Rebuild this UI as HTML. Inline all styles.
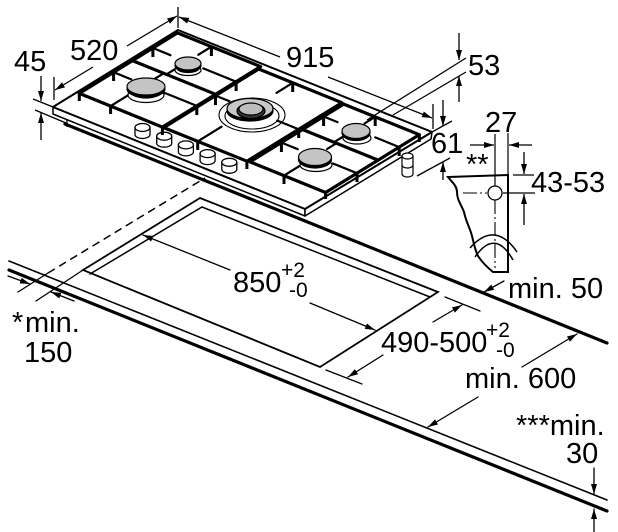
<!DOCTYPE html>
<html><head><meta charset="utf-8"><style>
html,body{margin:0;padding:0;background:#fff;}
svg{display:block;}
text{font-family:"Liberation Sans",Arial,sans-serif;fill:#000;}
.t{font-size:29px;}
.s{font-size:21px;}
</style></head><body>
<svg width="618" height="532" viewBox="0 0 618 532" xmlns="http://www.w3.org/2000/svg">
<defs>
<marker id="ar" viewBox="0 0 10 6" refX="10" refY="3" markerWidth="10" markerHeight="6" orient="auto" markerUnits="userSpaceOnUse"><path d="M0,0L10,3L0,6z" fill="#000"/></marker>
</defs>
<rect width="618" height="532" fill="#fff"/>

<!-- countertop -->
<g stroke="#000" fill="none" stroke-linecap="round">
<line x1="9" y1="261" x2="607" y2="500" stroke-width="1.6"/>
<line x1="9" y1="270" x2="607" y2="511" stroke-width="3.2"/>
<line x1="65" y1="124" x2="607" y2="343" stroke-width="3.2"/>
<!-- cutout -->
<path d="M83,270 L200,198 L438,292 L320,367 Z" stroke-width="1.8" fill="#fff"/>
<path d="M90,274 L202,207 L430,297" stroke-width="1.5"/>
<!-- dashed + ext lines (min 150) -->
<line x1="48" y1="273" x2="205" y2="178" stroke-width="1.5" stroke-dasharray="8,5" stroke-linecap="butt"/>
<line x1="18" y1="292" x2="48" y2="273" stroke-width="1.3"/>
<line x1="36" y1="301" x2="83" y2="270" stroke-width="1.3"/>
<line x1="8" y1="276" x2="30" y2="284" stroke-width="1.3" marker-end="url(#ar)"/>
<line x1="74" y1="301" x2="51" y2="292" stroke-width="1.3" marker-end="url(#ar)"/>
<!-- 850 -->
<line x1="230" y1="270" x2="143" y2="235" stroke-width="1.3" marker-end="url(#ar)"/>
<line x1="310" y1="303" x2="375" y2="330" stroke-width="1.3" marker-end="url(#ar)"/>
<!-- 490-500 -->
<line x1="445" y1="297" x2="480" y2="311" stroke-width="1.3"/>
<line x1="326" y1="370" x2="362" y2="384" stroke-width="1.3"/>
<line x1="433" y1="322" x2="462" y2="305" stroke-width="1.3" marker-end="url(#ar)"/>
<line x1="383" y1="355" x2="348" y2="377" stroke-width="1.3" marker-end="url(#ar)"/>
<!-- min 50 -->
<line x1="504" y1="281" x2="484" y2="292" stroke-width="1.3" marker-end="url(#ar)"/>
<!-- min 600 -->
<line x1="522" y1="367" x2="577" y2="334" stroke-width="1.3" marker-end="url(#ar)"/>
<line x1="478" y1="397" x2="428" y2="427" stroke-width="1.3" marker-end="url(#ar)"/>
<!-- 30 -->
<line x1="594" y1="468" x2="594" y2="494" stroke-width="1.3" marker-end="url(#ar)"/>
<line x1="594" y1="532" x2="594" y2="509" stroke-width="1.3" marker-end="url(#ar)"/>
</g>

<!-- hob -->
<g stroke="#000" stroke-linejoin="round" fill="#fff">
<line x1="67" y1="114" x2="67" y2="127" stroke-width="1.3"/>
<path d="M53,107 L305,209 L305,216 L53,114 Z" stroke-width="1.5"/>
<path d="M305,209 L432,132 L431,139 L305,216 Z" stroke-width="1.5"/>
<path d="M53,107 L178,30 L432,132 L305,209 Z" stroke-width="2"/>
</g>

<!-- wok rings on surface -->
<g fill="none" stroke="#000" stroke-width="1.1">
<ellipse cx="252" cy="115" rx="33" ry="17"/>
<ellipse cx="252" cy="116" rx="27" ry="13"/>
</g>

<!-- knobs -->
<g stroke="#000" stroke-width="1.3" fill="#fff">
<path d="M135,127.5 L135,134.5 A7.5,4 0 0 0 150,134.5 L150,127.5 Z"/><ellipse cx="142.5" cy="127.5" rx="7.5" ry="4"/>
<path d="M156.7,136.2 L156.7,143.2 A7.5,4 0 0 0 171.7,143.2 L171.7,136.2 Z"/><ellipse cx="164.2" cy="136.2" rx="7.5" ry="4"/>
<path d="M178.4,144.9 L178.4,151.9 A7.5,4 0 0 0 193.4,151.9 L193.4,144.9 Z"/><ellipse cx="185.9" cy="144.9" rx="7.5" ry="4"/>
<path d="M200.1,153.6 L200.1,160.6 A7.5,4 0 0 0 215.1,160.6 L215.1,153.6 Z"/><ellipse cx="207.6" cy="153.6" rx="7.5" ry="4"/>
<path d="M221.8,162.3 L221.8,169.3 A7.5,4 0 0 0 236.8,169.3 L236.8,162.3 Z"/><ellipse cx="229.3" cy="162.3" rx="7.5" ry="4"/>
</g>

<!-- grates -->
<g stroke="#000" fill="none" stroke-linejoin="round" stroke-linecap="round">
<g stroke-width="3.2">
<path d="M79.3,93.4 L162.4,127.1 L260.6,66.6 L177.4,32.9 Z"/>
<line x1="132.4" y1="60.6" x2="215.6" y2="94.3"/>
<path d="M163.7,127.6 L246.9,161.2 L341.9,102.7 L258.7,69 Z"/>
<path d="M250,161.9 L325.6,192.5 L419.3,134.7 L343.7,104.1 Z"/>
<line x1="302.5" y1="129.5" x2="378.1" y2="160.1"/>
</g>
<g stroke-width="2.2">
<line x1="113.6" y1="72.2" x2="131.3" y2="79.4"/>
<line x1="196.8" y1="105.9" x2="159" y2="90.6"/>
<line x1="110.6" y1="106.1" x2="135.5" y2="90.7"/>
<line x1="163.7" y1="73.3" x2="154.3" y2="79.1"/>
<line x1="152.9" y1="48" x2="170.5" y2="55.2"/>
<line x1="236.1" y1="81.7" x2="203.3" y2="68.4"/>
<line x1="211.4" y1="46.7" x2="198.3" y2="54.8"/>
<line x1="166.4" y1="74.4" x2="175.8" y2="68.6"/>
<line x1="215.5" y1="95.6" x2="229.4" y2="101.2"/>
<line x1="298.7" y1="129.3" x2="277.3" y2="120.6"/>
<line x1="197.7" y1="141.4" x2="221.5" y2="126.7"/>
<line x1="292.7" y1="82.8" x2="276.5" y2="92.9"/>
<line x1="281.4" y1="142.6" x2="297.8" y2="149.2"/>
<line x1="357" y1="173.2" x2="333" y2="163.5"/>
<line x1="284" y1="175.6" x2="303.4" y2="163.6"/>
<line x1="336.5" y1="143.2" x2="327.1" y2="149"/>
<line x1="323.6" y1="116.5" x2="337.5" y2="122.1"/>
<line x1="399.2" y1="147.1" x2="375.3" y2="137.4"/>
<line x1="375.2" y1="116.8" x2="364.6" y2="123.4"/>
<line x1="334" y1="142.2" x2="343.4" y2="136.4"/>
</g>
<g stroke-width="3" stroke-linecap="butt">
<line x1="113.6" y1="72" x2="113.6" y2="81"/>
<line x1="196.8" y1="106" x2="196.8" y2="115"/>
<line x1="110.6" y1="106" x2="110.6" y2="114"/>
<line x1="152.9" y1="48" x2="152.9" y2="57"/>
<line x1="236.1" y1="82" x2="236.1" y2="91"/>
<line x1="211.4" y1="47" x2="211.4" y2="56"/>
<line x1="215.5" y1="96" x2="215.5" y2="105"/>
<line x1="298.7" y1="129" x2="298.7" y2="138"/>
<line x1="197.7" y1="141" x2="197.7" y2="150"/>
<line x1="292.7" y1="83" x2="292.7" y2="92"/>
<line x1="281.4" y1="143" x2="281.4" y2="152"/>
<line x1="357" y1="173" x2="357" y2="182"/>
<line x1="284" y1="176" x2="284" y2="184"/>
<line x1="323.6" y1="117" x2="323.6" y2="126"/>
<line x1="399.2" y1="147" x2="399.2" y2="156"/>
<line x1="375.2" y1="117" x2="375.2" y2="126"/>
<line x1="79.3" y1="93" x2="79.3" y2="101"/>
<line x1="162.4" y1="127" x2="162.4" y2="135"/>
<line x1="246.9" y1="161" x2="246.9" y2="169"/>
<line x1="325.6" y1="192" x2="325.6" y2="199"/>
<line x1="419.3" y1="135" x2="419.3" y2="142"/>
</g>
</g>

<!-- burners -->
<g stroke="#000" stroke-width="1.2">
<ellipse cx="146" cy="95" rx="18" ry="7.5" fill="#fff"/>
<ellipse cx="146" cy="92" rx="15" ry="6" fill="#fff"/>
<ellipse cx="146" cy="89" rx="19" ry="8.5" fill="#000"/>
<ellipse cx="146" cy="86.5" rx="19" ry="8.5" fill="#c4c4c4"/>
<ellipse cx="188" cy="70" rx="13" ry="5.5" fill="#fff"/>
<ellipse cx="188" cy="68" rx="11" ry="4.5" fill="#fff"/>
<ellipse cx="188" cy="65.5" rx="13" ry="6.5" fill="#000"/>
<ellipse cx="188" cy="63.5" rx="13" ry="6.5" fill="#c4c4c4"/>
<ellipse cx="250" cy="111" rx="23" ry="10" fill="#000"/>
<ellipse cx="250" cy="108.5" rx="23" ry="10" fill="#c8c8c8"/>
<ellipse cx="251" cy="111" rx="14" ry="7.5" fill="#333"/>
<ellipse cx="251" cy="109" rx="12" ry="6" fill="#bdbdbd"/>
<ellipse cx="357" cy="138" rx="14" ry="6" fill="#fff"/>
<ellipse cx="356" cy="133" rx="14" ry="7.5" fill="#000"/>
<ellipse cx="356" cy="131" rx="14" ry="7.5" fill="#c4c4c4"/>
<ellipse cx="316" cy="165" rx="16" ry="6.5" fill="#fff"/>
<ellipse cx="315" cy="159.5" rx="16.5" ry="8.5" fill="#000"/>
<ellipse cx="315" cy="157" rx="16.5" ry="8.5" fill="#c4c4c4"/>
</g>

<!-- foot -->
<g stroke="#000" stroke-width="1.2" fill="#fff">
<path d="M402,156 L402,174 A5.5,3 0 0 0 413,174 L413,156 Z"/>
<ellipse cx="407.5" cy="156" rx="5.5" ry="3"/>
<path d="M402,165 A5.5,3 0 0 0 413,165" fill="none"/>
</g>

<!-- hob dimensions -->
<g stroke="#000" fill="none" stroke-width="1.3">
<line x1="33" y1="99" x2="53" y2="107"/>
<line x1="35" y1="110" x2="66" y2="123"/>
<line x1="41" y1="76" x2="41" y2="101" marker-end="url(#ar)"/>
<line x1="41" y1="140" x2="41" y2="113" marker-end="url(#ar)"/>
<line x1="54" y1="77" x2="54" y2="100"/>
<line x1="178" y1="7" x2="178" y2="28"/>
<line x1="93" y1="67" x2="55" y2="90" marker-end="url(#ar)"/>
<line x1="127" y1="46" x2="177" y2="16" marker-end="url(#ar)"/>
<line x1="280" y1="57" x2="179" y2="17" marker-end="url(#ar)"/>
<line x1="328" y1="77" x2="432" y2="118" marker-end="url(#ar)"/>
<line x1="433" y1="104" x2="433" y2="129"/>
<line x1="367" y1="120" x2="466" y2="58"/>
<line x1="393" y1="115" x2="466" y2="72"/>
<line x1="459" y1="33" x2="459" y2="60" marker-end="url(#ar)"/>
<line x1="459" y1="102" x2="459" y2="76" marker-end="url(#ar)"/>
<line x1="432" y1="132" x2="452" y2="121"/>
<line x1="417" y1="176" x2="450" y2="158"/>
<line x1="443" y1="100" x2="443" y2="126" marker-end="url(#ar)"/>
<line x1="443" y1="180" x2="443" y2="162" marker-end="url(#ar)"/>
</g>

<!-- bracket -->
<g stroke="#000" fill="none">
<path d="M448,177 L508,175 L508,272 L493,272 C488,268 482,262 478,256 C475,250 474,244 472,236 C470,228 466,222 464,212 C461,204 457,200 457,192 C457,186 452,182 448,177 Z" stroke-width="2" fill="#fff"/>
<path d="M470,248 Q495,220 517,252" stroke-width="1.5"/>
<path d="M475,257 Q495,228 513,260" stroke-width="1.5"/>
<circle cx="495" cy="193" r="7" stroke-width="1.3"/>
<line x1="495" y1="134" x2="495" y2="186" stroke-width="1.2"/>
<line x1="495" y1="200" x2="495" y2="268" stroke-width="1.1" stroke-dasharray="14,3,2,3"/>
<line x1="463" y1="193" x2="487" y2="193" stroke-width="1.1" stroke-dasharray="14,3,2,3"/>
<line x1="503" y1="193" x2="535" y2="193" stroke-width="1.2"/>
<line x1="508" y1="133" x2="508" y2="175" stroke-width="1.2"/>
<line x1="513" y1="175" x2="534" y2="175" stroke-width="1.2"/>
<line x1="470" y1="145" x2="494" y2="145" stroke-width="1.3" marker-end="url(#ar)"/>
<line x1="532" y1="145" x2="509" y2="145" stroke-width="1.3" marker-end="url(#ar)"/>
<line x1="524" y1="152" x2="524" y2="174" stroke-width="1.3" marker-end="url(#ar)"/>
<line x1="524" y1="225" x2="524" y2="194" stroke-width="1.3" marker-end="url(#ar)"/>
</g>

<!-- labels -->
<text class="t" x="14" y="71">45</text>
<text class="t" x="70" y="60">520</text>
<text class="t" x="286" y="67">915</text>
<text class="t" x="468" y="75">53</text>
<text class="t" x="431" y="153">61</text>
<text class="t" x="485" y="132">27</text>
<text class="t" x="466" y="174">**</text>
<text class="t" x="531" y="192">43-53</text>
<text class="t" x="233" y="292">850</text>
<text class="s" x="281" y="277">+2</text>
<text class="s" x="289" y="297">-0</text>
<text class="t" x="12" y="332">*</text>
<text class="t" x="25" y="332">min.</text>
<text class="t" x="24" y="362">150</text>
<text class="t" x="508" y="298">min. 50</text>
<text class="t" x="381" y="352">490-500</text>
<text class="s" x="486" y="337">+2</text>
<text class="s" x="496" y="357">-0</text>
<text class="t" x="465" y="388">min. 600</text>
<text class="t" x="516" y="435">***min.</text>
<text class="t" x="566" y="463">30</text>
</svg>
</body></html>
